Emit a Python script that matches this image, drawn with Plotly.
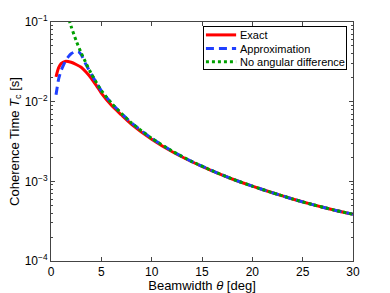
import plotly.graph_objects as go

# Data
theta_exact = [0.5, 0.75, 1.0, 1.4, 2.0, 2.5, 3.0, 3.5, 4.0, 4.5, 5.0, 6.0, 7.0, 8.0,
               10, 12, 14, 16, 18, 20, 22, 24, 26, 28, 30]
tc_exact = [0.0205, 0.0265, 0.0300, 0.0320, 0.0312, 0.0293, 0.0270, 0.0234, 0.0197, 0.0160,
            0.0128, 0.0090, 0.0068, 0.0052, 0.00338, 0.00237, 0.00176, 0.00135, 0.00107,
            0.00087, 0.00072, 0.00060, 0.00051, 0.00044, 0.000385]

theta_approx = [0.5, 0.75, 1.0, 1.25, 1.5, 1.75, 2.0, 2.3, 2.7, 3.0, 3.4, 4.0, 5.0, 6.0, 7.0, 8.0,
                10, 12, 14, 16, 18, 20, 22, 24, 26, 28, 30]
tc_approx = [0.0122, 0.0190, 0.0245, 0.0290, 0.0335, 0.0370, 0.0400, 0.0418, 0.0425, 0.0390,
             0.0305, 0.0222, 0.0137, 0.0096, 0.0071, 0.0054, 0.00347, 0.00241, 0.00177,
             0.00136, 0.00107, 0.00087, 0.00072, 0.00060, 0.00051, 0.00044, 0.000386]

theta_noang = [1.8, 2.0, 2.5, 3.0, 3.5, 4.0, 5.0, 6.0, 7.0, 8.0, 10, 12, 14, 16, 18, 20,
               22, 24, 26, 28, 30]
tc_noang = [0.106, 0.088, 0.0580, 0.0410, 0.0300, 0.0225, 0.0138, 0.0096, 0.0071, 0.0054,
            0.00347, 0.00241, 0.00177, 0.00136, 0.00107, 0.00087, 0.00072, 0.00060, 0.00051,
            0.00044, 0.000386]

series_names = ["Exact", "Approximation", "No angular difference"]
series_colors = ["#ff0000", "#1f3fff", "#00a000"]
series_dash = ["solid", "8px,5px", "dot"]

x_ticks = [0, 5, 10, 15, 20, 25, 30]
y_ticks = [1e-4, 1e-3, 1e-2, 1e-1]
y_ticktext = ["10<sup>−4</sup>", "10<sup>−3</sup>", "10<sup>−2</sup>", "10<sup>−1</sup>"]

fig = go.Figure()
for xs, ys, name, col, dash in zip([theta_exact, theta_approx, theta_noang],
                                   [tc_exact, tc_approx, tc_noang],
                                   series_names, series_colors, series_dash):
    fig.add_trace(go.Scatter(x=xs, y=ys, mode="lines", name=name,
                             line=dict(color=col, width=3, dash=dash, shape="spline",
                                       smoothing=0.6)))

# Legend frame: an empty bordered annotation box (MATLAB-style compact legend)
fig.add_annotation(xref="paper", yref="paper", x=0.742, y=0.891, text=" ", showarrow=False,
                   xanchor="center", yanchor="middle", width=142, height=42, borderpad=0,
                   bordercolor="black", borderwidth=1, bgcolor="rgba(0,0,0,0)")
entry_y = [0.946, 0.889, 0.834]
for yy, name, col, dash in zip(entry_y, series_names, series_colors, series_dash):
    fig.add_shape(type="line", xref="paper", yref="paper", x0=0.513, x1=0.613, y0=yy, y1=yy,
                  line=dict(color=col, width=3, dash=dash), layer="above")
    fig.add_annotation(xref="paper", yref="paper", x=0.619, y=yy, text=name, showarrow=False,
                       xanchor="left", yanchor="middle", font=dict(size=11, color="black"))

axis_common = dict(showline=True, linecolor="#444", linewidth=1, mirror="ticks",
                   ticks="inside", tickcolor="#444", showgrid=False, zeroline=False,
                   automargin=False,
                   tickfont=dict(family="Liberation Sans, Arial", size=12, color="black"))

fig.update_layout(
    width=390, height=293,
    margin=dict(l=51, r=37, t=22, b=32),
    paper_bgcolor="white", plot_bgcolor="white",
    font=dict(family="Liberation Sans, Arial", size=13, color="black"),
    xaxis=dict(range=[0, 30], tickvals=x_ticks, ticklen=4,
               title=dict(text="Beamwidth <i>θ</i> [deg]", standoff=2,
                          font=dict(size=13)), **axis_common),
    yaxis=dict(type="log", range=[-4, -1], tickvals=y_ticks, ticktext=y_ticktext, ticklen=4,
               minor=dict(ticks="inside", ticklen=2, tickcolor="#444",
                          tickvals=[k * 10 ** e for e in (-4, -3, -2) for k in range(2, 10)]),
               title=dict(text="Coherence Time <i>T</i><sub>c</sub> [s]", standoff=2,
                          font=dict(size=13)), **axis_common),
    showlegend=False,
)

fig.write_html("out.html", config={"displayModeBar": False},
               post_script="document.body.style.margin='0';")
